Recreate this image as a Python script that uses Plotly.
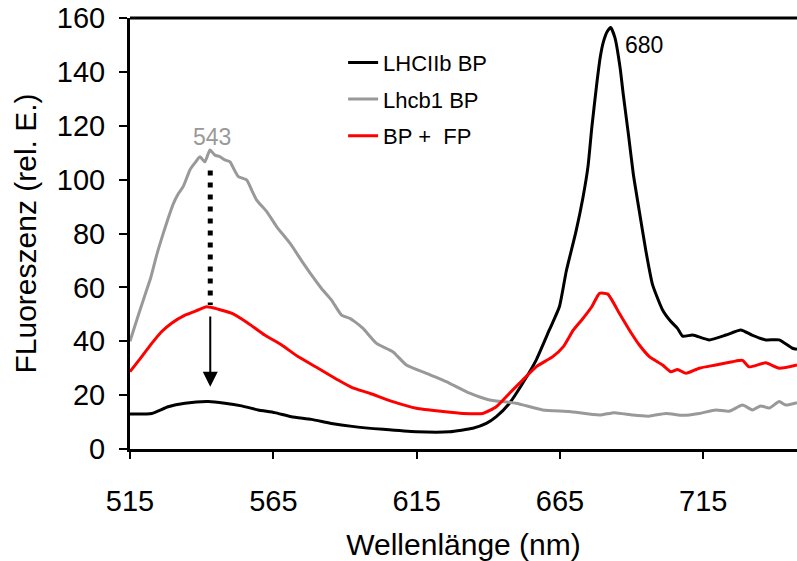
import plotly.graph_objects as go

# ---- data ----
lhcb1_x = [515, 516.5, 518.5, 520.8, 522.2, 524.3, 526, 527.8, 530.1, 532, 533.6, 535.9, 537.5, 539.4,
           541.1, 542.9, 544.6, 546.4, 548.1, 549.9, 551.2, 552.8, 555.7, 557.5, 559.2, 562.7, 566.2,
           570.8, 575.5, 578.3, 581.8, 585.3, 588.8, 591.7, 593.4, 596.3, 601, 606.7, 611.4, 618.4,
           626.5, 633.5, 640.4, 649.7, 659, 668.3, 678.8, 684, 690.4, 696, 702, 708, 713.6, 719.4,
           724, 728.7, 732.2, 735, 738, 741.5, 743.8, 747.7]
lhcb1_y = [40, 45, 51.6, 59, 63.5, 72, 78, 84, 91, 95, 97.5, 103.6, 106, 108.5,
           106.6, 111, 109.1, 108.5, 107.3, 106.6, 104, 101.1, 99.9, 96, 92.4, 88.1, 82.5,
           76.4, 68.9, 64.6, 59.6, 55.3, 49.7, 48.5, 47.3, 44.8, 39.2, 36.1, 31.2, 28.1,
           24.4, 20.7, 18.2, 17, 14.5, 13.9, 12.6, 13.5, 12.6, 12.2, 13.2, 12.5, 13.2, 14.5,
           14, 16.3, 14.5, 16, 15.2, 17.6, 16.3, 17.2]

mix_x = [515, 519.1, 522.6, 526, 529.5, 534.2, 538.8, 541.7, 545.8, 550.4, 556.2, 562, 567.9, 573.6,
         580.6, 587.6, 592.5, 598.6, 606.7, 614.9, 624.2, 631.1, 638.1, 642.8, 647.4, 652, 656.7,
         662.5, 666.2, 669.7, 672.6, 676.1, 678.8, 681.7, 685.7, 689.2, 692.7, 696.2, 700.8, 703.7,
         706, 709, 713.6, 719.4, 725.2, 728.7, 731, 736.8, 741.5, 747.7]
mix_y = [28.7, 34.3, 39.2, 43.5, 46.7, 49.7, 51.6, 52.8, 51.9, 50.4, 46.7, 42.3, 38.6, 34.3,
         30, 25.6, 22.8, 20.7, 17.6, 15.1, 13.9, 13.2, 13.2, 15.7, 20.7, 25.6, 30.5,
         34.3, 38, 44.2, 47.9, 52.8, 57.8, 57.5, 50.4, 44.2, 38.6, 34.3, 31.2, 28.7,
         29.5, 28.1, 30, 31.2, 32.4, 32.9, 30.5, 32, 30, 31.2]

lhcii_x = [515, 522.6, 528.3, 534.2, 542.3, 548.1, 553.9, 559.7, 565.5, 571.3, 578.3, 585.3, 592.5,
           603.3, 614.9, 626.5, 634.6, 639.3, 642.8, 647.4, 652, 656.7, 661.3, 664.8, 667.2, 670.6,
           673, 674.8, 676.1, 677.8, 679, 680.2, 681.5, 682.7, 684.2, 686, 687.1, 688.9, 690.6,
           692.7, 695, 697.3, 700.8, 703.7, 706, 707.8, 711.3, 717.1, 722.9, 728.1, 732, 736.8,
           741.5, 746.1, 747.7]
lhcii_y = [13, 13.2, 15.7, 17, 17.6, 17, 16, 14.5, 13.5, 12, 11, 9.5, 8.4,
           7.3, 6.4, 6.4, 7.7, 9.5, 12, 17, 24.4, 33, 44.2, 52.8, 66, 80.8,
           93.2, 105, 119.2, 135.2, 145.1, 151.3, 155, 156.5, 152.6, 141.4, 131.5, 116.7, 102,
           88.2, 73.4, 61, 51.6, 47.3, 44.8, 41.9, 42.3, 40.5, 42.3, 44.2, 42.3, 40.5,
           40.5, 37.4, 37]

x_ticks = [515, 565, 615, 665, 715]
y_ticks = [0, 20, 40, 60, 80, 100, 120, 140, 160]

names = ["LHCIIb BP", "Lhcb1 BP", "BP +  FP"]
colors = ["#000000", "#999999", "#ff0000"]

FONT = "Arial, Liberation Sans, sans-serif"

fig = go.Figure()
for i, (xs, ys) in enumerate([(lhcii_x, lhcii_y), (lhcb1_x, lhcb1_y), (mix_x, mix_y)]):
    fig.add_trace(go.Scatter(x=xs, y=ys, mode="lines", name=names[i], legendgroup=names[i],
                             line=dict(color=colors[i], width=3, shape="spline", smoothing=0.5)))

# dotted drop line and arrow at 543 nm
fig.add_trace(go.Scatter(x=[543, 543], y=[103.4, 53.5], mode="lines", showlegend=False,
                         line=dict(color="black", width=5, dash="5px,7px")))
fig.add_annotation(x=543, y=23.1, ax=543, ay=49.7, axref="x", ayref="y", xref="x", yref="y",
                   text="", showarrow=True, arrowhead=2, arrowsize=1.5, arrowwidth=2,
                   arrowcolor="black")

fig.add_annotation(x=543.7, y=116, text="543", showarrow=False, xref="x", yref="y",
                   font=dict(size=23, color="#999999", family=FONT))
fig.add_annotation(x=694.3, y=150, text="680", showarrow=False, xref="x", yref="y",
                   font=dict(size=23, color="black", family=FONT))

# top frame line
fig.add_shape(type="line", xref="paper", yref="paper", x0=0, x1=1, y0=1, y1=1,
              line=dict(color="black", width=3))

axis_common = dict(showline=True, linecolor="black", linewidth=3, ticks="outside",
                   tickcolor="black", tickwidth=1.5, showgrid=False, zeroline=False,
                   tickfont=dict(size=29, family=FONT, color="black"))

fig.update_layout(
    width=797, height=561,
    margin=dict(l=130, r=0, t=18, b=112),
    plot_bgcolor="white", paper_bgcolor="white",
    font=dict(family=FONT, color="black"),
    xaxis=dict(range=[515, 747.7], tickmode="array", tickvals=x_ticks, ticklen=7,
               ticklabelstandoff=17,
               title=dict(text="Wellenlänge (nm)", font=dict(size=30, family=FONT), standoff=19),
               **axis_common),
    yaxis=dict(range=[0, 160], tickmode="array", tickvals=y_ticks, ticklen=8,
               ticklabelstandoff=8,
               title=dict(text="FLuoreszenz (rel. E.)", font=dict(size=30, family=FONT), standoff=12),
               **axis_common),
    legend=dict(x=0.3195, y=0.945, xanchor="left", yanchor="top", bgcolor="rgba(0,0,0,0)",
                font=dict(size=22, family=FONT, color="black"), tracegroupgap=5,
                borderwidth=0),
    showlegend=True,
)

fig.write_html("out.html")
